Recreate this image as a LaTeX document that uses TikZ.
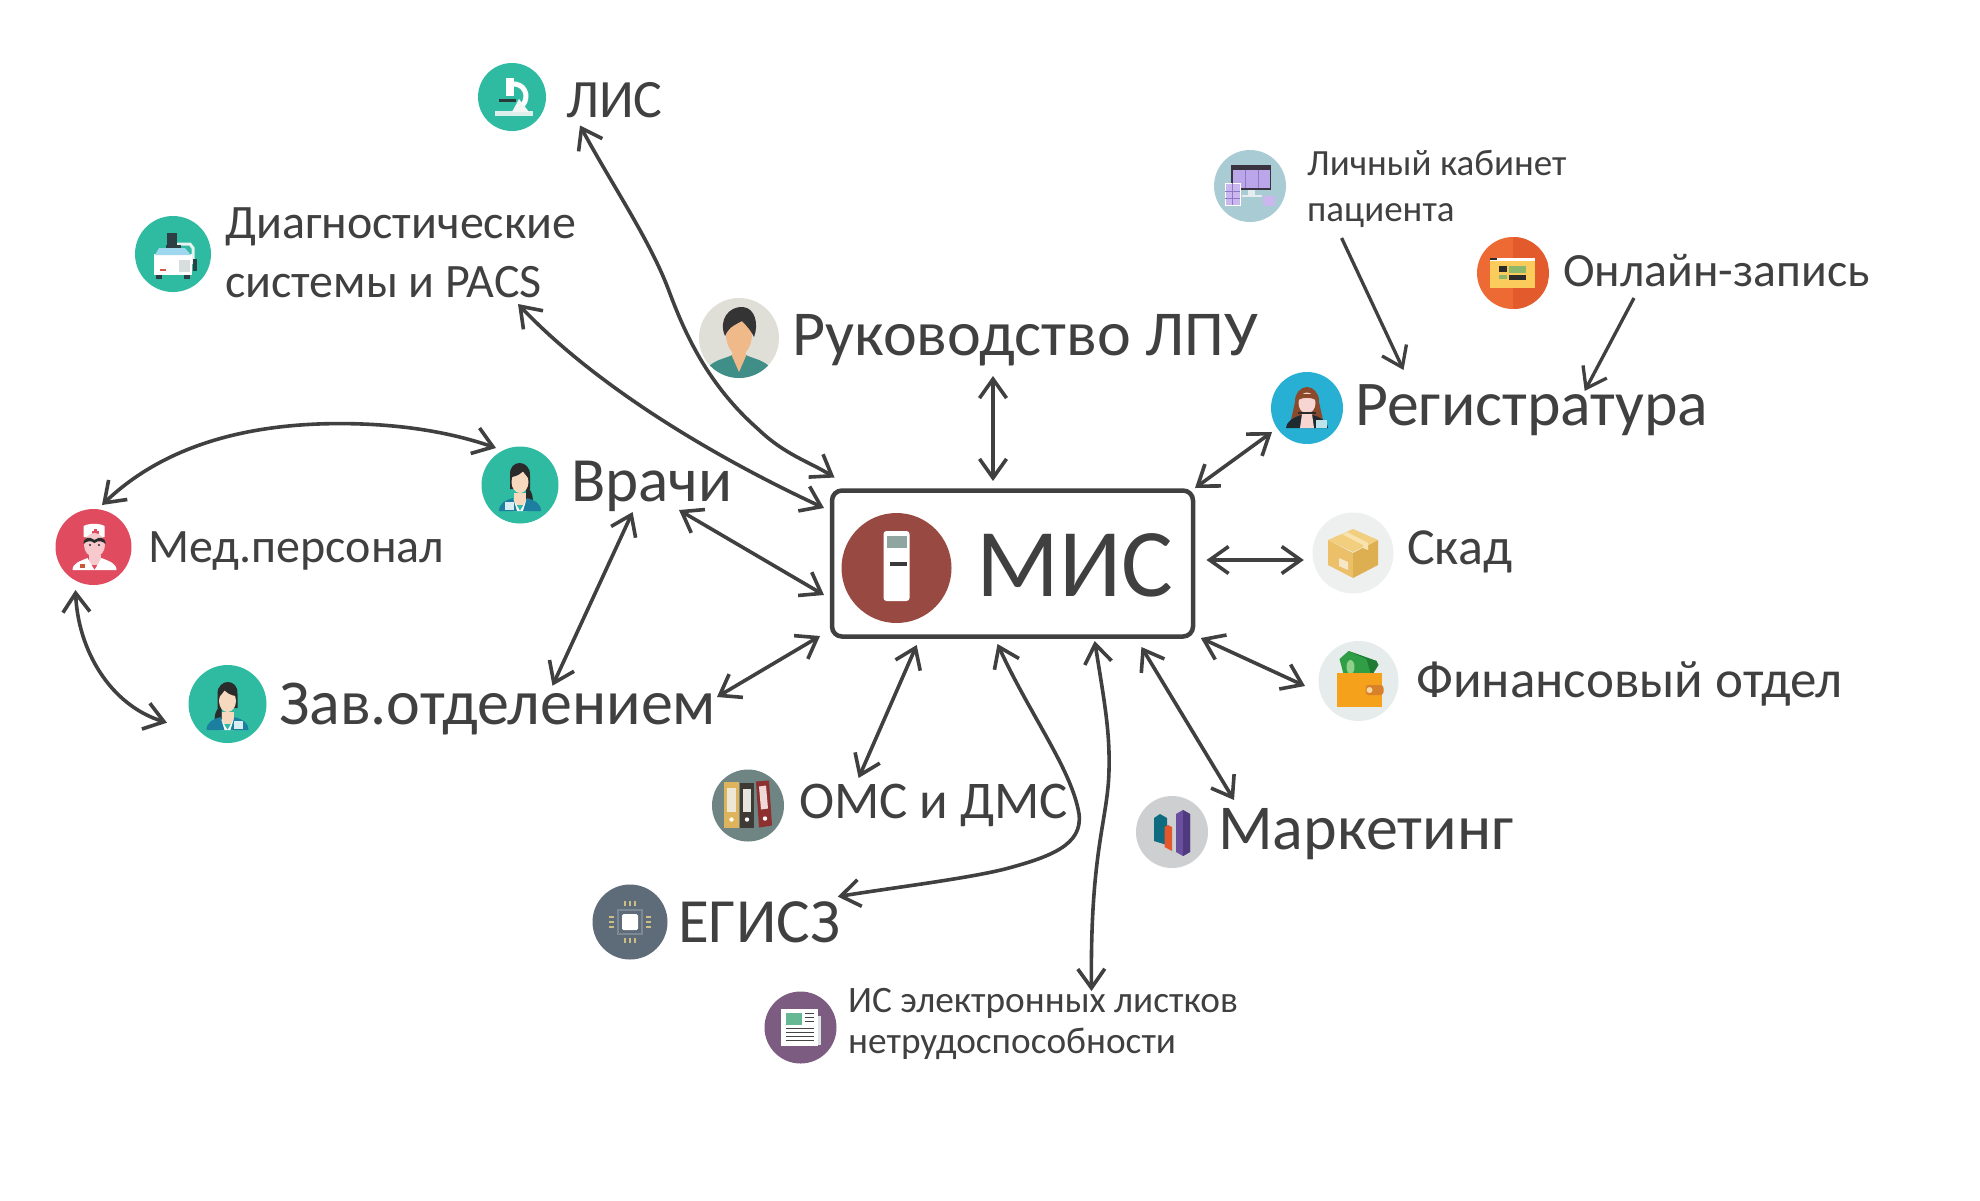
\documentclass[tikz,border=0pt]{standalone}
\usepackage{fontspec}
\setmainfont{Carlito}
\usetikzlibrary{arrows.meta}
\definecolor{ink}{HTML}{404040}
\definecolor{cteal}{HTML}{2EBBA2}
\definecolor{cred}{HTML}{E04B60}
\definecolor{cbrown}{HTML}{984A42}
\definecolor{cblue}{HTML}{28B0D4}
\definecolor{cpale}{HTML}{A9CBD4}
\definecolor{corange}{HTML}{EE6A35}
\definecolor{cfold}{HTML}{6E8583}
\definecolor{cgrey}{HTML}{CDCFD1}
\definecolor{cchip}{HTML}{5E6B78}
\definecolor{cpurp}{HTML}{7C5C80}
\definecolor{cbeige}{HTML}{E0DFD7}
\definecolor{clight}{HTML}{EEEFEF}
\definecolor{cwall}{HTML}{E6ECEC}
\definecolor{skin}{HTML}{F6D9BE}
\definecolor{hair}{HTML}{2B2B2B}
\newcommand{\fs}[1]{\fontsize{#1}{#1}\selectfont}
\newcommand{\doctor}{%
  \fill[hair] (-10,-10) .. controls (-11,-26) and (10,-26) .. (10,-10) -- (10,4) -- (-10,4) -- cycle;
  \fill[hair] (6,0) .. controls (14,8) and (14,16) .. (11,24) -- (6,22) -- cycle;
  \fill[skin] (-6,8) rectangle (6,20);
  \fill[skin] (0,-3) ellipse (8.5 and 11);
  \fill[hair] (-9,-8) .. controls (-4,-8) and (2,-12) .. (3,-14) -- (3,-18) -- (-8,-16) -- cycle;
  \fill[hair] (3,-14) .. controls (5,-10) and (8,-8) .. (9,-6) -- (9,-16) -- cycle;
  \fill[white] (-7,14) -- (0,26) -- (7,14) -- (7,26) -- (-7,26) -- cycle;
  \fill[HTML=1C7FA0] (-21,26) .. controls (-21,18) and (-14,15) .. (-7,13) -- (-3,26) -- cycle;
  \fill[HTML=1C7FA0] (21,26) .. controls (21,18) and (14,15) .. (7,13) -- (3,26) -- cycle;
  \fill[HTML=D8EEF2] (-15,17) rectangle (-6,25);
}
\tikzset{
  x=1pt,y=-1pt,
  disc/.style={circle,inner sep=0pt,minimum size=#1},
  lbl/.style={anchor=base west,inner sep=0pt,text=ink},
  lbltwo/.style={anchor=west,inner sep=0pt,text=ink,align=left},
  dbl/.style={draw=ink,line width=3.6pt,{Straight Barb[length=19pt,width=27pt,line width=3.6pt]}-{Straight Barb[length=19pt,width=27pt,line width=3.6pt]}},
  sgl/.style={draw=ink,line width=3.3pt,-{Straight Barb[length=19pt,width=27pt,line width=3.3pt]}},
  HTML/.code={\definecolor{tmpc}{HTML}{#1}\pgfkeysalso{color=tmpc}},
}
\begin{document}
\begin{tikzpicture}
\useasboundingbox (0,0) rectangle (1980,1200);
\fill[white] (0,0) rectangle (1980,1200);

% central box
\node[draw=ink,line width=4.5pt,rounded corners=10pt,minimum width=361pt,minimum height=146pt,inner sep=0pt] (box) at (1012.5,563.5) {};

% discs
\node[disc=110pt,fill=cbrown] (mis) at (896.5,568) {};
\node[disc=68pt,fill=cteal] (lis) at (512,97) {};
\node[disc=76pt,fill=cteal] (diag) at (173,254) {};
\node[disc=80pt,fill=cbeige] (ruk) at (739,338) {};
\node[disc=77pt,fill=cteal] (vrachi) at (520,485) {};
\node[disc=76pt,fill=cred] (med) at (93.5,547) {};
\node[disc=78pt,fill=cteal] (zav) at (227.5,704) {};
\node[disc=72pt,fill=cpale] (lk) at (1250,186) {};
\node[disc=72pt,fill=corange] (online) at (1513,273) {};
\node[disc=72pt,fill=cblue] (reg) at (1307,408) {};
\node[disc=81pt,fill=clight] (sklad) at (1353,553) {};
\node[disc=80pt,fill=cwall] (fin) at (1358.5,681) {};
\node[disc=72pt,fill=cfold] (oms) at (748,805.5) {};
\node[disc=72pt,fill=cgrey] (mark) at (1172,832) {};
\node[disc=75pt,fill=cchip] (egisz) at (630,922) {};
\node[disc=72pt,fill=cpurp] (is) at (800.5,1027.5) {};

% icon: MIS terminal
\begin{scope}[shift={(mis.center)}]
  \fill[white,rounded corners=3pt] (-13,-37) rectangle (13,33);
  \fill[HTML=8FA5A0] (-10,-32) rectangle (10,-20);
  \fill[HTML=3A3A3A] (-7,-6) rectangle (10,-2);
\end{scope}
% icon: microscope
\begin{scope}[shift={(lis.center)}]
  \fill[HTML=DDEFEA] (-17,14) rectangle (21,19);
  \fill[HTML=F2F7F5] (0,15) -- (7,2) -- (17,15) -- cycle;
  \draw[white,line width=5pt] (0,-13) .. controls (12,-14) and (18,-2) .. (11,8);
  \fill[white] (-6,-19) rectangle (2,-1);
  \fill[HTML=2A3A3A] (-13,2) rectangle (4,4.5);
\end{scope}
% icon: diagnostic machine
\begin{scope}[shift={(diag.center)}]
  \draw[HTML=E8F2F0,line width=3pt] (4,-10) -- (17,-10) -- (20,-6) -- (20,10);
  \fill[HTML=2D3E44] (-6,-21) rectangle (4,-9);
  \fill[HTML=2D3E44] (-7,-9) rectangle (8,-6);
  \fill[HTML=2D3E44] (20,5) rectangle (24,17);
  \fill[HTML=2D3E44] (-17,20) rectangle (-11,25);
  \fill[HTML=2D3E44] (11,20) rectangle (17,25);
  \fill[white] (-19,0) rectangle (19,21);
  \fill[HTML=9FD8EE] (-14,-6) -- (12,-6) -- (18,1) -- (-18,1) -- cycle;
  \fill[HTML=D9534F] (-13,15) rectangle (-7,17);
  \fill[HTML=D8DEDE] (6,6) rectangle (17,18);
\end{scope}
% icon: manager
\begin{scope}
  \clip (ruk.center) circle (40);
  \begin{scope}[shift={(ruk.center)}]
    \fill[HTML=3F8F88] (-30,40) -- (-30,28) .. controls (-22,21) and (-12,20) .. (-7,17) -- (7,17) .. controls (12,20) and (22,21) .. (30,28) -- (30,40) -- cycle;
    \fill[HTML=F0B98A] (-6,8) -- (6,8) -- (7,18) -- (0,34) -- (-7,18) -- cycle;
    \fill[HTML=F0B98A] (0,-4) ellipse (13 and 21);
    \fill[HTML=343434] (-14,-2) .. controls (-21,-18) and (-10,-32) .. (4,-31) .. controls (16,-30) and (20,-14) .. (15,-1) .. controls (13,-6) and (8,-12) .. (3,-17) .. controls (-2,-14) and (-10,-12) .. (-14,-2) -- cycle;
  \end{scope}
\end{scope}
% icons: doctors
\begin{scope}[shift={(vrachi.center)}]\doctor\end{scope}
\begin{scope}[shift={(zav.center)},xscale=-1]\doctor\end{scope}
% icon: nurse
\begin{scope}[shift={(med.center)}]
  \fill[white] (-10,-21) .. controls (-4,-24) and (6,-24) .. (11,-21) -- (11,-10) -- (-10,-10) -- cycle;
  \fill[HTML=E04B60] (0,-18) rectangle (3,-12);
  \fill[HTML=E04B60] (-2,-16.5) rectangle (5,-13.5);
  \fill[HTML=F7C9CC] (-5,8) rectangle (7,18);
  \fill[HTML=F7C9CC] (1,-2) ellipse (10.5 and 12);
  \fill[hair] (-10,-3) .. controls (-10,-10) and (-4,-11) .. (1,-7) .. controls (6,-11) and (12,-10) .. (12,-3) .. controls (9,-6) and (5,-7) .. (1,-4) .. controls (-3,-7) and (-7,-6) .. (-10,-3) -- cycle;
  \fill[hair] (-3.5,-2) circle (1.2);
  \fill[hair] (5.5,-2) circle (1.2);
  \fill[white] (-21,23) .. controls (-21,16) and (-13,14) .. (-6,11) -- (1,23) -- (8,11) .. controls (15,14) and (23,16) .. (23,23) -- cycle;
  \fill[HTML=C9583A] (-14,17) rectangle (-9,21);
\end{scope}
% icon: computer set
\begin{scope}[shift={(lk.center)}]
  \fill[HTML=3A3340] (-19,-21) rectangle (21,4);
  \fill[HTML=BBA6EA] (-17,-16) rectangle (20,2);
  \draw[HTML=8F78C8,line width=.8pt] (-5,-16) -- (-5,2) (8,-16) -- (8,2);
  \fill[HTML=E6EDF0] (-2,4) rectangle (5,9);
  \fill[HTML=E6EDF0] (-8,9) rectangle (12,11);
  \fill[HTML=C9B7EE,draw=white,line width=1pt] (-25,-3) rectangle (-10,19);
  \draw[HTML=8F78C8,line width=.6pt] (-17.5,-3) -- (-17.5,19) (-25,5) -- (-10,5) (-25,12) -- (-10,12);
  \fill[HTML=C9B7EE] (13,10) rectangle (25,20);
\end{scope}
% icon: web window
\begin{scope}
  \clip (online.center) circle (36);
  \fill[HTML=E35A2C] (online.center) ++(0,-36) rectangle ++(36,72);
\end{scope}
\begin{scope}[shift={(online.center)}]
  \fill[HTML=FBCB5B] (-23,-15) rectangle (22,15);
  \fill[white] (-23,-15) rectangle (22,-12.5);
  \fill[hair] (-23,-15) rectangle (-16,-13.5);
  \fill[hair] (-14,-7) rectangle (-6,-1);
  \fill[hair] (-4,2) rectangle (13,7);
  \fill[HTML=8DB76B] (-4,-7) rectangle (13,0);
  \fill[HTML=8DB76B] (-14,2) rectangle (-6,6);
\end{scope}
% icon: receptionist
\begin{scope}[shift={(reg.center)}]
  \fill[HTML=8B4A2B] (0,-7) ellipse (12 and 14);
  \fill[HTML=8B4A2B] (-12,-6) -- (12,-6) -- (16,12) -- (-16,12) -- cycle;
  \fill[HTML=1E2A30] (-21,20) .. controls (-20,12) and (-12,9) .. (-6,7) -- (6,7) .. controls (12,9) and (20,12) .. (21,20) -- cycle;
  \fill[HTML=F7D5D2] (-5,6) -- (5,6) -- (7,20) -- (-7,20) -- cycle;
  \fill[HTML=F7D5D2] (0,-5) ellipse (8.5 and 10.5);
  \fill[HTML=8B4A2B] (-9,-8) -- (-9,-14) -- (9,-14) -- (9,-8) .. controls (4,-11) and (-4,-11) .. (-9,-8) -- cycle;
  \fill[hair] (-9,3.5) rectangle (9,6);
  \fill[HTML=BFE3EA] (9,12) rectangle (20,20);
\end{scope}
% icon: parcel
\begin{scope}[shift={(sklad.center)}]
  \fill[HTML=EBC068] (-25,-13) -- (0,0) -- (0,25) -- (-25,12) -- cycle;
  \fill[HTML=DDAF50] (25,-13) -- (0,0) -- (0,25) -- (25,12) -- cycle;
  \fill[HTML=F1CF7F] (0,-24) -- (25,-13) -- (0,-1) -- (-25,-13) -- cycle;
  \fill[HTML=F8E3AE] (-11,-19) -- (-6,-21) -- (15,-10) -- (15,-3) -- (10,-5) -- (10,-8) -- cycle;
  \fill[HTML=F6E7C8] (-14,5) -- (-5,9) -- (-5,17) -- (-14,13) -- cycle;
\end{scope}
% icon: wallet
\begin{scope}[shift={(fin.center)}]
  \fill[HTML=2F9E45] (-19,-22) -- (-10,-30) -- (18,-20) -- (13,-5) -- (-15,-7) -- cycle;
  \fill[HTML=1F7A34] (-10,-30) -- (18,-20) -- (20,-16) -- (13,-5) -- (8,-22) -- cycle;
  \fill[HTML=8FD08A] (-8,-14) ellipse (4 and 7);
  \fill[HTML=F5A11C] (-22,-8) rectangle (23,26);
  \fill[HTML=D9812A,rounded corners=3pt] (7,4) rectangle (25,14);
  \fill[HTML=F6D9A0] (11,9) circle (3);
\end{scope}
% icon: binders
\begin{scope}[shift={(oms.center)}]
  \fill[HTML=DDB45C] (-24,-24) rectangle (-9,22);
  \fill[HTML=3E3A36] (-8,-23) rectangle (6,22);
  \fill[HTML=8E2F30] (8,-24) -- (21,-25) -- (24,20) -- (11,22) -- cycle;
  \fill[HTML=EFE7D5] (-21,-18) rectangle (-12,6);
  \fill[HTML=E5E5E0] (-5,-17) rectangle (3,6);
  \fill[HTML=EFD8D5] (11,-19) -- (18,-20) -- (20,3) -- (13,4) -- cycle;
  \fill[white] (-16.5,14) circle (2.2);
  \fill[white] (-1,14) circle (2.2);
  \fill[white] (17,13) circle (2.2);
\end{scope}
% icon: bars
\begin{scope}[shift={(mark.center)}]
  \fill[HTML=0F6C80] (-18,-14) -- (-12,-18) -- (-5,-14) -- (-5,13) -- (-18,9) -- cycle;
  \fill[HTML=E2572B] (-7.5,-5) -- (-4,-7) -- (0,-5) -- (0,19) -- (-7.5,15) -- cycle;
  \fill[HTML=6A4F9E] (4,-18) -- (11,-22) -- (18,-18) -- (18,20) -- (11,24) -- (4,20) -- cycle;
  \fill[HTML=4F3A80] (11,-22) -- (18,-18) -- (18,20) -- (11,24) -- cycle;
\end{scope}
% icon: chip
\begin{scope}[shift={(egisz.center)}]
  \draw[HTML=7C8893,line width=2pt] (-12,-12) rectangle (12,12);
  \fill[white,rounded corners=1.5pt] (-8,-8) rectangle (8,8);
  \draw[HTML=CDBE84,line width=1.4pt]
    (-5,-16) -- (-5,-21) (0,-16) -- (0,-21) (5,-16) -- (5,-21)
    (-5,16) -- (-5,21) (0,16) -- (0,21) (5,16) -- (5,21)
    (-16,-5) -- (-21,-5) (-16,0) -- (-21,0) (-16,5) -- (-21,5)
    (16,-5) -- (21,-5) (16,0) -- (21,0) (16,5) -- (21,5);
\end{scope}
% icon: newspaper
\begin{scope}[shift={(is.center)}]
  \fill[HTML=DCE3E3] (14,-12) rectangle (20,17);
  \fill[white] (-20,-19) rectangle (17,18);
  \fill[HTML=66B794] (-15,-15) rectangle (1,-3);
  \draw[HTML=444444,line width=1.3pt]
    (4,-14) -- (13,-14) (4,-10) -- (13,-10) (4,-6) -- (13,-6)
    (-15,1) -- (13,1) (-15,5) -- (13,5) (-15,9) -- (13,9) (-15,13) -- (13,13);
\end{scope}

% labels
\node[lbl,font=\fs{54}] (lisT) at (566,117) {ЛИС};
\node[lbltwo,font=\fs{48}] (diagT) at (225,253) {Диагностические\\[11pt]системы и PACS};
\node[lbl,font=\fs{64}] (rukT) at (792,355) {Руководство ЛПУ};
\node[lbl,font=\fs{63}] (vrachiT) at (571,501) {Врачи};
\node[lbl,font=\fs{48}] (medT) at (148,562) {Мед.персонал};
\node[lbl,font=\fs{64}] (zavT) at (279,724) {Зав.отделением};
\node[lbl,font=\fs{97}] (misT) at (976,596) {МИС};
\node[lbltwo,font=\fs{37}] (lkT) at (1307,189) {Личный кабинет\\[9pt]пациента};
\node[lbl,font=\fs{47.7}] (onlineT) at (1563,286) {Онлайн-запись};
\node[lbl,font=\fs{63.7}] (regT) at (1355,425) {Регистратура};
\node[lbl,font=\fs{52}] (skladT) at (1407,564) {Скад};
\node[lbl,font=\fs{53}] (finT) at (1416,697) {Финансовый отдел};
\node[lbl,font=\fs{53}] (omsT) at (799,818) {ОМС и ДМС};
\node[lbl,font=\fs{64}] (markT) at (1218,849.5) {Маркетинг};
\node[lbl,font=\fs{63}] (egiszT) at (678,942.5) {ЕГИСЗ};
\node[lbltwo,font=\fs{37.3}] (isT) at (848,1024) {ИС электронных листков\\[3pt]нетрудоспособности};

% connectors
\path[dbl] ([shift={(68,28.5)}]lis.center)
  .. controls (612,185) and (650,240) .. (669,291)
  .. controls (685,334) and (708,385) .. (758,429)
  .. controls (785,455) and (810,462) .. ([shift={(-178,-86)}]box.center);
\path[dbl] ([shift={(345,50)}]diag.center) .. controls (595,385) and (710,455) .. ([shift={(-188.5,-55.5)}]box.center);
\path[dbl] ([shift={(159,25)}]vrachi.center) -- ([shift={(-188.5,31.5)}]box.center);
\path[dbl] ([shift={(8.5,-42)}]med.center)
  .. controls (170,440) and (260,423) .. (344,423.6)
  .. controls (400,424) and (450,432) .. ([shift={(-24,-37)}]vrachi.center);
\path[dbl] ([shift={(-18,43)}]med.center) .. controls (78,650) and (110,705) .. ([shift={(-60.5,18.7)}]zav.center);
\path[dbl] ([shift={(112.6,27)}]vrachi.center) -- ([shift={(325,-18.3)}]zav.center);
\path[dbl] ([shift={(489.5,-7)}]zav.center) -- ([shift={(-192.5,72.5)}]box.center);
\path[dbl] ([shift={(-95.8,81.5)}]box.center) -- ([shift={(110.6,-27.5)}]oms.center);
\path[dbl] ([shift={(-15,80.5)}]box.center)
  .. controls (1030,715) and (1072,770) .. (1079,814)
  .. controls (1083,845) and (1050,857) .. (1005,869)
  .. controls (965,879) and (890,888) .. ([shift={(207.8,-25.4)}]egisz.center);
\path[dbl] ([shift={(82.2,77.5)}]box.center)
  .. controls (1104,700) and (1110,730) .. (1109,770)
  .. controls (1108,820) and (1090,850) .. ([shift={(291,-36.5)}]is.center);
\path[dbl] ([shift={(128.9,83.5)}]box.center) -- ([shift={(62,-32)}]mark.center);
\path[dbl] ([shift={(188.3,74.5)}]box.center) -- ([shift={(-53.5,5)}]fin.center);
\path[dbl] ([shift={(194,-3.5)}]box.center) -- ([shift={(-49.2,7)}]sklad.center);
\path[dbl] ([shift={(182.5,-75.5)}]box.center) -- ([shift={(-35,24)}]reg.center);
\path[dbl] ([shift={(-19.5,-82.5)}]box.center) -- ([shift={(254,38)}]ruk.center);
\path[sgl] ([shift={(91.6,52)}]lk.center) -- ([shift={(96.5,-38)}]reg.center);
\path[sgl] ([shift={(121,25)}]online.center) -- ([shift={(277.7,-17)}]reg.center);
\end{tikzpicture}
\end{document}
